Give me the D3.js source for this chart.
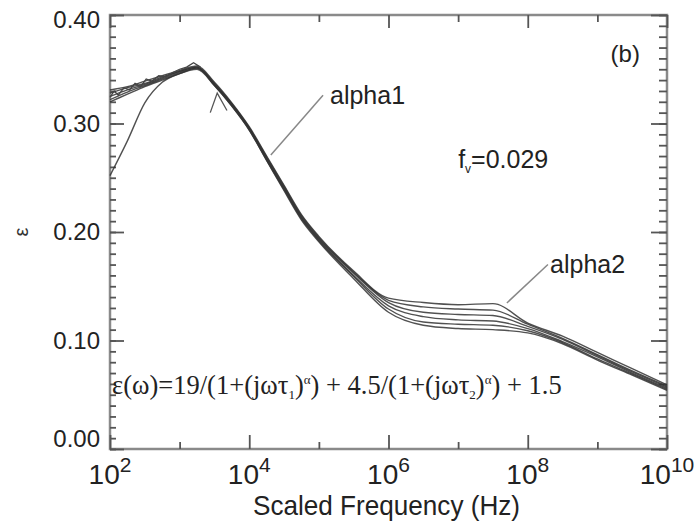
<!DOCTYPE html>
<html>
<head>
<meta charset="utf-8">
<script src="https://cdn.jsdelivr.net/npm/d3@7"></script>
<style>
body { margin: 0; background: #fff; }
svg { display: block; font-family: "Liberation Sans", Arial, sans-serif; }
</style>
</head>
<body>
<svg id="chart" width="699" height="529"></svg>
<script>
// frequency grid, as log10 of Hz
var logFreq = [2, 2.25, 2.5, 2.75, 3, 3.25, 3.5, 3.75, 4, 4.25, 4.5, 4.75, 5, 5.5, 6, 6.5, 7, 7.5, 8, 8.5, 9, 9.5, 10];

// fitted curves, one per alpha setting
var curve1 = [0.331, 0.334, 0.339, 0.344, 0.349, 0.353, 0.338, 0.319, 0.297, 0.270, 0.243, 0.216, 0.196, 0.164, 0.139, 0.135, 0.133, 0.134, 0.116, 0.104, 0.089, 0.074, 0.059];
var curve2 = [0.328, 0.333, 0.337, 0.343, 0.348, 0.352, 0.337, 0.318, 0.296, 0.269, 0.242, 0.215, 0.195, 0.163, 0.137, 0.131, 0.129, 0.128, 0.115, 0.102, 0.087, 0.072, 0.058];
var curve3 = [0.325, 0.331, 0.336, 0.342, 0.348, 0.352, 0.336, 0.318, 0.296, 0.268, 0.241, 0.214, 0.194, 0.162, 0.135, 0.126, 0.124, 0.123, 0.113, 0.101, 0.086, 0.071, 0.057];
var curve4 = [0.322, 0.329, 0.335, 0.341, 0.347, 0.351, 0.336, 0.317, 0.295, 0.267, 0.240, 0.213, 0.193, 0.160, 0.132, 0.122, 0.119, 0.118, 0.111, 0.099, 0.085, 0.070, 0.056];
var curve5 = [0.320, 0.327, 0.334, 0.340, 0.346, 0.351, 0.335, 0.316, 0.294, 0.266, 0.239, 0.212, 0.192, 0.159, 0.129, 0.117, 0.115, 0.114, 0.109, 0.098, 0.083, 0.069, 0.055];
var curve6 = [0.252, 0.284, 0.319, 0.338, 0.346, 0.350, 0.335, 0.316, 0.294, 0.266, 0.238, 0.211, 0.191, 0.157, 0.126, 0.114, 0.111, 0.110, 0.107, 0.097, 0.082, 0.068, 0.054];

// measured points at the low end
var measLogFreq = [2.0, 2.06, 2.12, 2.2, 2.28, 2.36, 2.44, 2.52, 2.6, 2.7, 2.8, 2.9, 3.0, 3.1, 3.2, 3.3];
var measValues = [0.324, 0.330, 0.326, 0.333, 0.331, 0.337, 0.334, 0.341, 0.339, 0.344, 0.343, 0.347, 0.350, 0.352, 0.356, 0.352];
var markLogFreq = [3.44, 3.54, 3.68];
var markValues = [0.310, 0.328, 0.312];

// ticks
var xMajor = [2, 4, 6, 8, 10];
var xMinor = [3, 5, 7, 9];
var yMajor = [0, 0.1, 0.2, 0.3, 0.4];
var yMinor = d3.range(0, 41).map(d => d / 100);

var svg = d3.select('#chart');
var margin = {top: 15, right: 32, bottom: 80, left: 110};
var width = 699 - margin.left - margin.right;
var height = 529 - margin.top - margin.bottom;

var x = d3.scaleLog().domain([1e2, 1e10]).range([0, width]);
var y = d3.scaleLinear().domain([0, 0.4]).range([height, 0]);
var fx = e => x(Math.pow(10, e));

var g = svg.append('g').attr('transform', 'translate(' + margin.left + ',' + margin.top + ')');

// frame
g.append('rect')
    .attr('x', 0).attr('y', 0)
    .attr('width', width).attr('height', height)
    .attr('fill', 'none')
    .attr('stroke', '#8a8a8a')
    .attr('stroke-width', 2.5);

function tickAxis(axis, tr) {
    var a = g.append('g').attr('transform', tr || null).call(axis);
    a.select('.domain').remove();
    a.selectAll('line').attr('stroke', '#555').attr('stroke-width', 1.8);
    return a;
}

// inward ticks on all four sides
tickAxis(d3.axisLeft(y).tickValues(yMinor).tickSize(-6).tickFormat(''));
tickAxis(d3.axisRight(y).tickValues(yMinor).tickSize(-8).tickFormat(''), 'translate(' + width + ',0)');
tickAxis(d3.axisRight(y).tickValues(yMajor).tickSize(-16).tickFormat(''), 'translate(' + width + ',0)');
tickAxis(d3.axisBottom(x).tickValues(xMinor.map(e => Math.pow(10, e))).tickSize(-7).tickFormat(''), 'translate(0,' + height + ')');
tickAxis(d3.axisBottom(x).tickValues(xMajor.map(e => Math.pow(10, e))).tickSize(-14).tickFormat(''), 'translate(0,' + height + ')');
tickAxis(d3.axisTop(x).tickValues(xMinor.map(e => Math.pow(10, e))).tickSize(-7).tickFormat(''));
tickAxis(d3.axisTop(x).tickValues(xMajor.map(e => Math.pow(10, e))).tickSize(-13).tickFormat(''));

var yAx = tickAxis(d3.axisLeft(y).tickValues(yMajor).tickSize(-14).tickPadding(10).tickFormat(d3.format('.2f')));
yAx.selectAll('text')
    .style('font-size', '24px')
    .attr('fill', '#222')
    // the end labels sit a little inside the frame in the original
    .attr('y', d => d === 0.4 ? 5 : (d === 0 ? -10 : 0));

// x tick labels as 10 with superscript
var xl = g.append('g').selectAll('text')
    .data(xMajor).enter()
    .append('text')
        .attr('x', d => fx(d))
        .attr('y', height + 35)
        .attr('text-anchor', 'middle')
        .attr('fill', '#222')
        .style('font-size', '28px');
xl.append('tspan').text('10');
xl.append('tspan').attr('dy', -12).style('font-size', '21px').text(d => d);

// axis titles
g.append('text')
    .attr('x', (fx(2) + fx(10)) / 2 - 2)
    .attr('y', height + 66)
    .attr('text-anchor', 'middle')
    .attr('fill', '#222')
    .attr('textLength', 267)
    .attr('lengthAdjust', 'spacingAndGlyphs')
    .style('font-size', '28px')
    .text('Scaled Frequency (Hz)');

svg.append('text')
    .attr('transform', 'translate(28,' + (margin.top + y(0.2)) + ') rotate(-90)')
    .attr('text-anchor', 'middle')
    .attr('fill', '#333')
    .style('font-size', '20px')
    .text('ε');

// curves
var line = d3.line()
    .x((d, i) => fx(logFreq[i]))
    .y(d => y(d))
    .curve(d3.curveMonotoneX);

var curves = [curve1, curve2, curve3, curve4, curve5, curve6];
g.append('g').selectAll('path')
    .data(curves).enter()
    .append('path')
        .attr('d', line)
        .attr('fill', 'none')
        .attr('stroke', '#333')
        .attr('stroke-opacity', 0.85)
        .attr('stroke-width', 1.4);

var measLine = d3.line()
    .x((d, i) => fx(measLogFreq[i]))
    .y(d => y(d));
g.append('path')
    .attr('d', measLine(measValues))
    .attr('fill', 'none')
    .attr('stroke', '#444')
    .attr('stroke-width', 1.3);

var markLine = d3.line()
    .x((d, i) => fx(markLogFreq[i]))
    .y(d => y(d));
g.append('path')
    .attr('d', markLine(markValues))
    .attr('fill', 'none')
    .attr('stroke', '#555')
    .attr('stroke-width', 1.3);

// annotations (placed in data units)
function leader(a, b) {
    g.append('line')
        .attr('x1', fx(a[0])).attr('y1', y(a[1]))
        .attr('x2', fx(b[0])).attr('y2', y(b[1]))
        .attr('stroke', '#888')
        .attr('stroke-width', 1.5);
}
leader([5.06, 0.326], [4.31, 0.271]);
leader([8.29, 0.170], [7.70, 0.1346]);

function label(txt, e, v, size, anchor) {
    return g.append('text')
        .attr('x', fx(e)).attr('y', y(v))
        .attr('text-anchor', anchor || 'start')
        .attr('fill', '#222')
        .style('font-size', size + 'px')
        .text(txt);
}
label('alpha1', 5.16, 0.318, 25);
label('alpha2', 8.32, 0.162, 25);
label('(b)', 9.40, 0.357, 24, 'middle');

var fv = label('f', 7.0, 0.259, 25);
fv.append('tspan').attr('dy', 5).style('font-size', '12px').text('v');
fv.append('tspan').attr('dy', -5).text('=0.029');

// model equation
var eq = g.append('text')
    .attr('x', fx(2.03)).attr('y', y(0.0507))
    .attr('fill', '#222')
    .style('font-family', '"Liberation Serif", "Times New Roman", serif')
    .style('font-size', '26.5px');
eq.append('tspan').text('ε(ω)=19/(1+(jωτ');
eq.append('tspan').attr('dy', 5).style('font-size', '13px').text('1');
eq.append('tspan').attr('dy', -5).text(')');
eq.append('tspan').attr('dy', -10).style('font-size', '13px').text('α');
eq.append('tspan').attr('dy', 10).text(') + 4.5/(1+(jωτ');
eq.append('tspan').attr('dy', 5).style('font-size', '13px').text('2');
eq.append('tspan').attr('dy', -5).text(')');
eq.append('tspan').attr('dy', -10).style('font-size', '13px').text('α');
eq.append('tspan').attr('dy', 10).text(') + 1.5');
</script>
</body>
</html>
